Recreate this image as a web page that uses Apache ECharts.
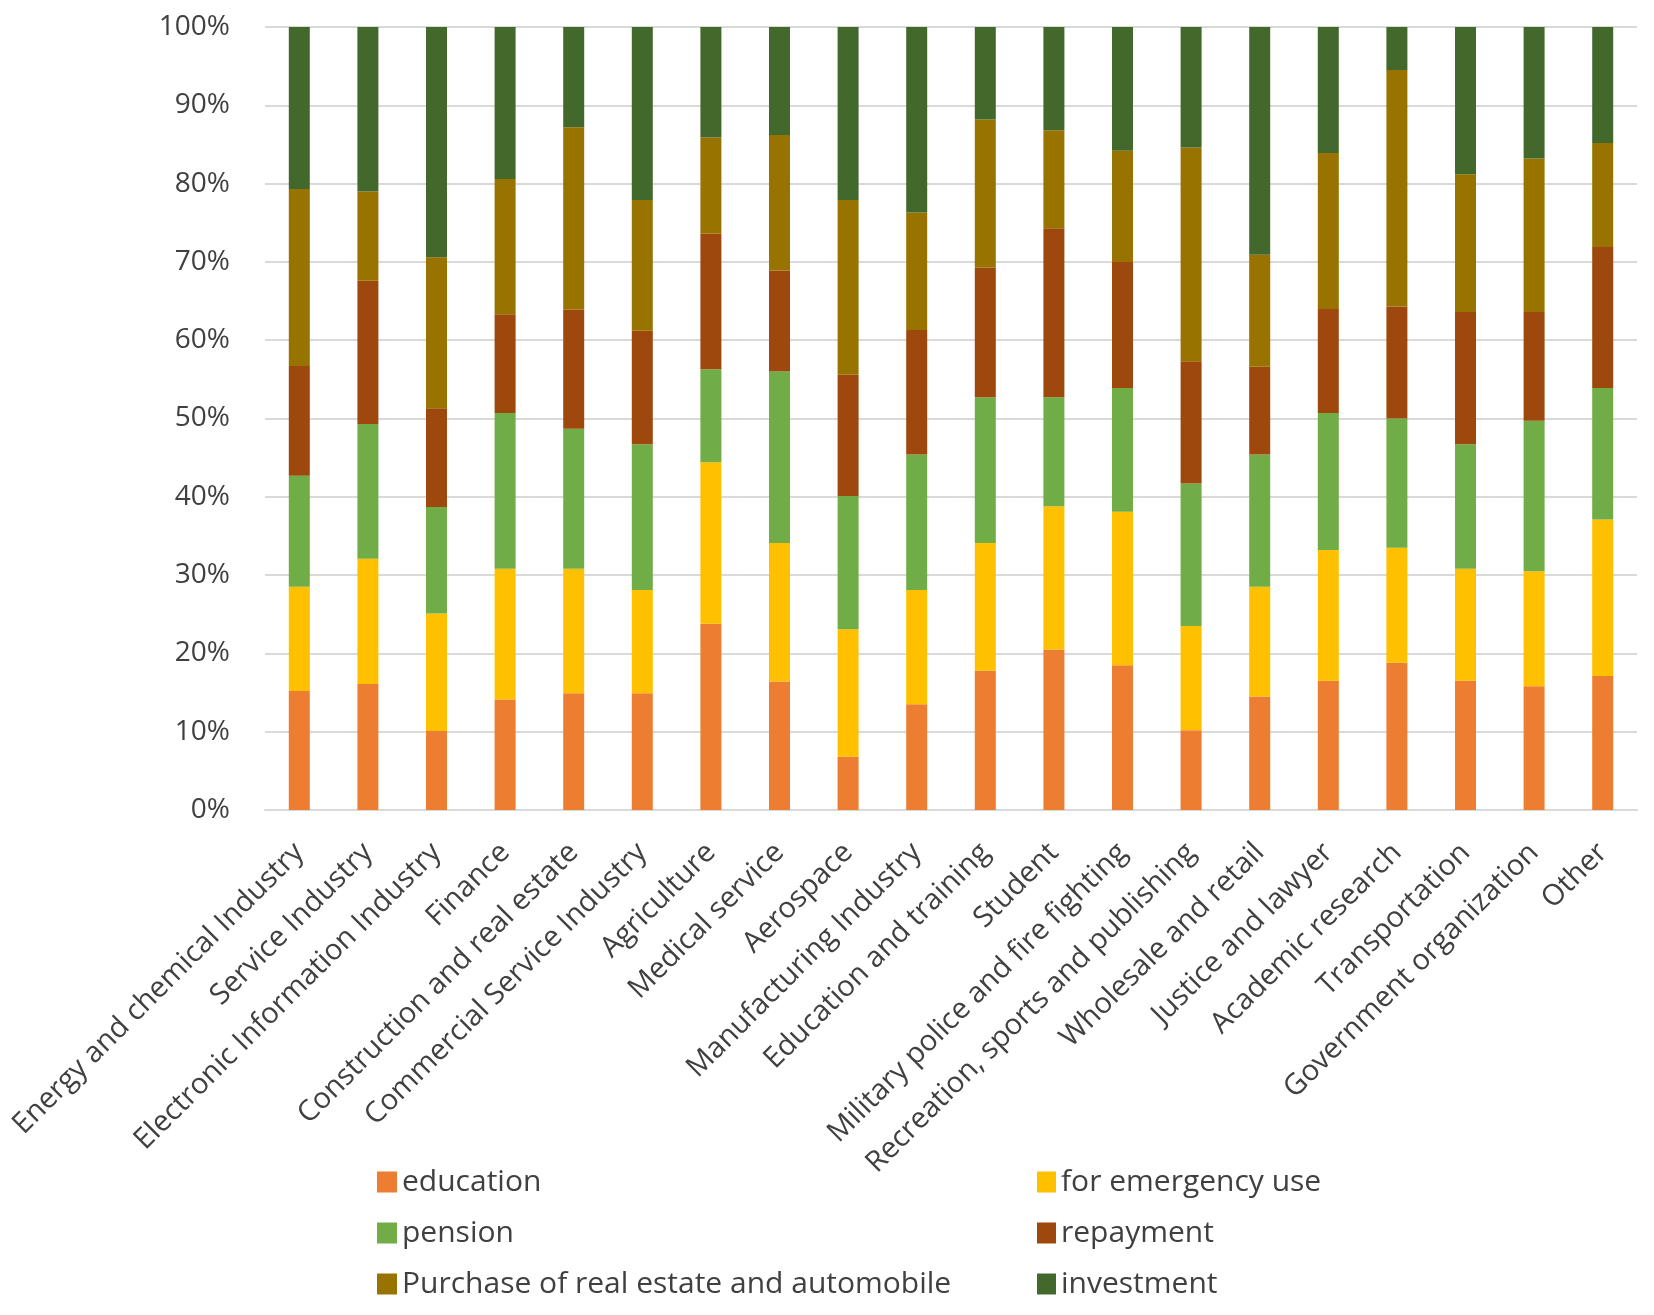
<!DOCTYPE html>
<html>
<head>
<meta charset="utf-8">
<script src="https://cdn.jsdelivr.net/npm/echarts@6/dist/echarts.min.js"></script>
<style>
html,body{margin:0;padding:0;background:#fff;}
#chart{width:1654px;height:1315px;}
</style>
</head>
<body>
<div id="chart"></div>
<script>
const categories = [
  "Energy and chemical Industry", "Service Industry", "Electronic Information Industry", "Finance",
  "Construction and real estate", "Commercial Service Industry", "Agriculture", "Medical service",
  "Aerospace", "Manufacturing Industry", "Education and training", "Student",
  "Military police and fire fighting", "Recreation, sports and publishing", "Wholesale and retail",
  "Justice and lawyer", "Academic research", "Transportation", "Government organization", "Other"
];
const education   = [15.2, 16.1, 10.1, 14.1, 14.9, 14.9, 23.8, 16.4, 6.8, 13.5, 17.8, 20.5, 18.5, 10.2, 14.5, 16.5, 18.8, 16.5, 15.8, 17.1];
const emergency   = [13.3, 16.0, 15.0, 16.7, 15.9, 13.2, 20.6, 17.7, 16.3, 14.6, 16.3, 18.3, 19.6, 13.3, 14.0, 16.7, 14.7, 14.3, 14.7, 20.0];
const pension     = [14.2, 17.2, 13.6, 19.9, 17.9, 18.6, 11.9, 21.9, 17.0, 17.3, 18.6, 13.9, 15.8, 18.2, 16.9, 17.5, 16.5, 15.9, 19.2, 16.8];
const repayment   = [14.0, 18.3, 12.6, 12.6, 15.2, 14.5, 17.3, 12.9, 15.5, 15.9, 16.6, 21.6, 16.1, 15.6, 11.2, 13.3, 14.3, 16.9, 13.9, 18.0];
const purchase    = [22.6, 11.4, 19.3, 17.3, 23.3, 16.7, 12.3, 17.3, 22.3, 15.0, 18.9, 12.5, 14.2, 27.3, 14.3, 19.9, 30.2, 17.6, 19.6, 13.3];
const investment  = [20.7, 21.0, 29.4, 19.4, 12.8, 22.1, 14.1, 13.8, 22.1, 23.7, 11.8, 13.2, 15.8, 15.4, 29.1, 16.1, 5.5, 18.8, 16.8, 14.8];
const yTicks = [0, 10, 20, 30, 40, 50, 60, 70, 80, 90, 100];

const names = ["education", "for emergency use", "pension", "repayment", "Purchase of real estate and automobile", "investment"];
const colors = ["#ED7D31", "#FFC000", "#70AD47", "#9E480E", "#997300", "#43682B"];
const dataSets = [education, emergency, pension, repayment, purchase, investment];

const FONT = "Open Sans";
const chart = echarts.init(document.getElementById('chart'), null, {renderer: 'canvas'});
const legendText = {fontFamily: FONT, fontSize: 30, color: '#404040', lineHeight: 32};
chart.setOption({
  animation: false,
  backgroundColor: '#ffffff',
  grid: {left: 265, right: 17, top: 27, bottom: 505, containLabel: false},
  legend: [
    {
      orient: 'vertical', left: 372, top: 1161, itemWidth: 20, itemHeight: 21, itemGap: 19,
      icon: 'rect', textStyle: legendText,
      data: [names[0], names[2], names[4]]
    },
    {
      orient: 'vertical', left: 1032, top: 1161, itemWidth: 19, itemHeight: 21, itemGap: 19,
      icon: 'rect', textStyle: legendText,
      data: [names[1], names[3], names[5]]
    }
  ],
  xAxis: {
    type: 'category',
    data: categories,
    axisLine: {lineStyle: {color: '#d9d9d9', width: 2}},
    axisTick: {show: false},
    axisLabel: {
      rotate: 45, interval: 0, margin: 38,
      fontFamily: FONT, fontSize: 29, color: '#404040'
    }
  },
  yAxis: {
    type: 'value', min: 0, max: 100, interval: 10,
    axisLine: {show: false}, axisTick: {show: false},
    splitLine: {lineStyle: {color: '#d9d9d9', width: 2}},
    axisLabel: {
      margin: 35, fontFamily: FONT, fontSize: 28, color: '#404040',
      formatter: v => yTicks.includes(v) ? v + '%' : ''
    }
  },
  series: dataSets.map((d, i) => ({
    name: names[i], type: 'bar', stack: 'total', data: d,
    barWidth: 21,
    itemStyle: {color: colors[i]}
  }))
});
</script>
</body>
</html>
